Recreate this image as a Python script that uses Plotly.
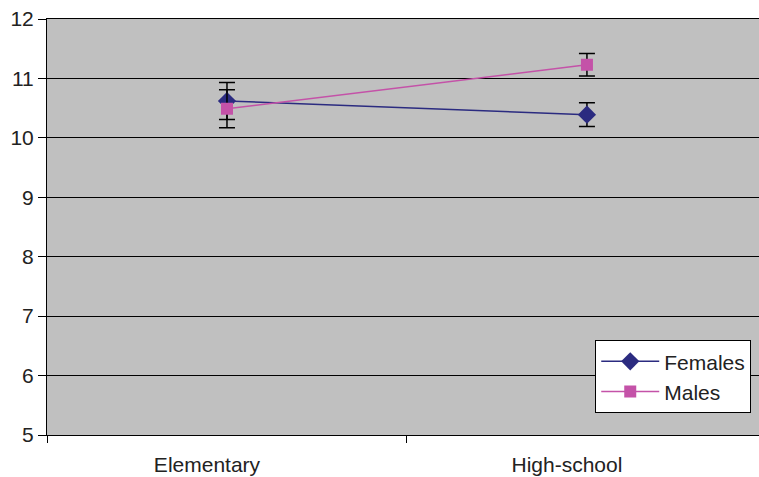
import plotly.graph_objects as go

categories = ["Elementary", "High-school"]
females = [10.62, 10.39]
females_err = [0.31, 0.20]
males = [10.49, 11.23]
males_err = [0.32, 0.19]
y_ticks = [5, 6, 7, 8, 9, 10, 11, 12]

FONT = "Liberation Sans, Arial, Helvetica, sans-serif"

fig = go.Figure()
fig.add_trace(go.Scatter(
    x=categories, y=females, name="Females", mode="lines+markers",
    line=dict(color="#2b2b80", width=1.5),
    marker=dict(symbol="diamond", size=14, color="#2b2b80"),
    error_y=dict(type="data", array=females_err, color="black", thickness=1.5, width=8),
    legendgroup="f",
))
fig.add_trace(go.Scatter(
    x=categories, y=males, name="Males", mode="lines+markers",
    line=dict(color="#c452a8", width=1.5),
    marker=dict(symbol="square", size=12, color="#c452a8"),
    error_y=dict(type="data", array=males_err, color="black", thickness=1.5, width=8),
    legendgroup="m",
))

fig.update_layout(
    width=759, height=477,
    margin=dict(l=47, r=0, t=19, b=42, autoexpand=False),
    paper_bgcolor="white",
    plot_bgcolor="#c0c0c0",
    font=dict(family=FONT, size=21, color="#222222"),
    showlegend=True,
    legend=dict(
        x=0.77, y=0.228, xanchor="left", yanchor="top",
        bgcolor="white", bordercolor="black", borderwidth=1,
        font=dict(family=FONT, size=21, color="#222222"),
        tracegroupgap=0, itemwidth=58,
    ),
    xaxis=dict(
        type="category", range=[-0.5, 1.478], automargin=False,
        showgrid=False, showline=True, linecolor="black", linewidth=1,
        mirror=True,
        ticks="outside", tickson="boundaries", ticklen=7, tickcolor="black",
        ticklabelstandoff=11, ticklabelshift=-20,
        tickfont=dict(family=FONT, size=21, color="#222222"),
    ),
    yaxis=dict(
        range=[5, 12], tickvals=y_ticks, automargin=False,
        showgrid=True, gridcolor="black", gridwidth=1,
        showline=True, linecolor="black", linewidth=1,
        ticks="outside", ticklen=8, tickcolor="black",
        ticklabeloverflow="allow",
        tickfont=dict(family=FONT, size=21, color="#222222"),
        zeroline=False,
    ),
)

fig.write_html(
    "out.html",
    config={"displayModeBar": False},
    post_script="document.body.style.margin='0';document.body.style.overflow='hidden';",
)
